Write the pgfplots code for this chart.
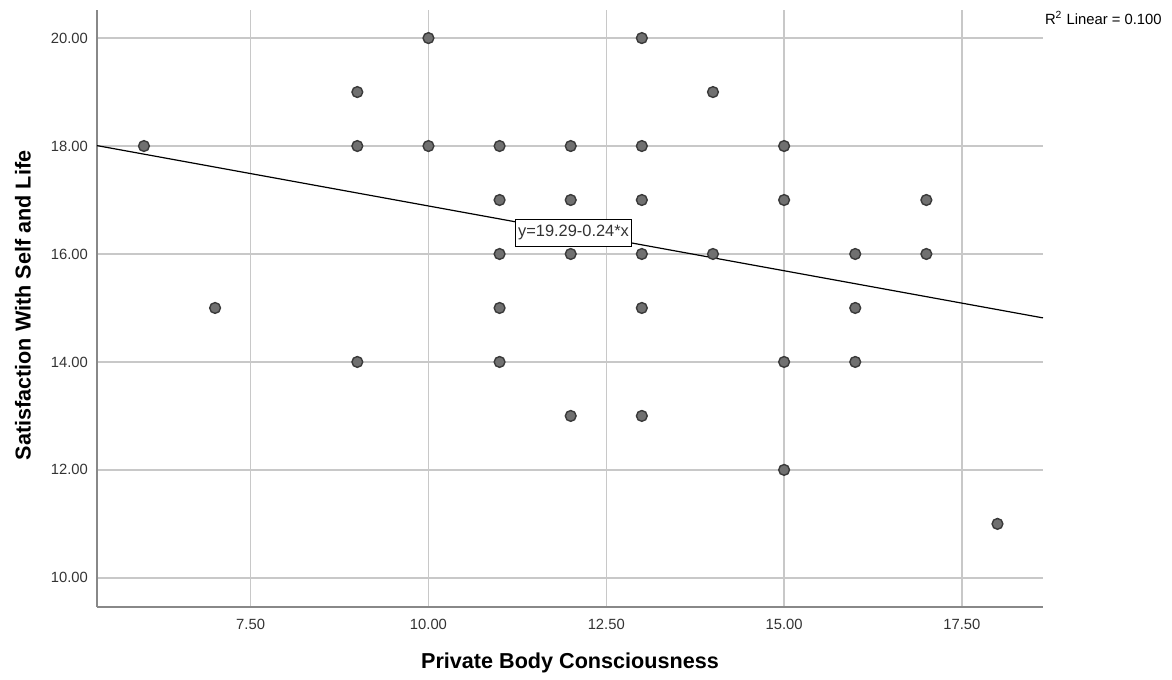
\documentclass[border=0pt]{standalone}
\usepackage{pgfplots}
\pgfplotsset{compat=1.18}
\usepackage{fontspec}
\setmainfont{Liberation Sans}
\definecolor{gridc}{HTML}{C8C8C8}
\definecolor{axc}{HTML}{888888}
\definecolor{tickc}{HTML}{333333}
\definecolor{mfill}{HTML}{707070}
\definecolor{mdraw}{HTML}{3A3A3A}
\begin{document}
\begin{tikzpicture}
\begin{axis}[
  scale only axis,
  width=473pt, height=298.5pt,
  xmin=5.34, xmax=18.64, ymin=9.46, ymax=20.52,
  axis x line*=bottom, axis y line*=left,
  axis line style={-, axc, line width=0.9pt},
  xtick={7.5,10,12.5,15,17.5},
  xticklabels={7.50,10.00,12.50,15.00,17.50},
  ytick={10,12,14,16,18,20},
  yticklabels={10.00,12.00,14.00,16.00,18.00,20.00},
  major tick length=0pt,
  grid=major,
  major grid style={gridc, line width=0.7pt},
  tick label style={font=\fontsize{7.4pt}{8pt}\selectfont, text=tickc},
  xticklabel style={yshift=-2.5pt},
  yticklabel style={xshift=-1pt},
  xlabel={Private Body Consciousness},
  ylabel={Satisfaction With Self and Life},
  label style={font=\fontsize{10.8pt}{12pt}\selectfont\bfseries, text=black},
  xlabel style={at={(rel axis cs:0.5,0)}, anchor=center, yshift=-28pt},
  ylabel style={at={(rel axis cs:0,0.505)}, anchor=center, yshift=37pt},
  clip=false,
]
\addplot[black, line width=0.6pt] coordinates {(5.34,18.008) (18.64,14.816)};
\addplot[only marks, mark=*, mark size=2.7pt, mark options={fill=mfill, draw=mdraw, line width=0.7pt}] coordinates {
(6,18) (7,15) (9,19) (9,18) (9,14) (10,20) (10,18)
(11,18) (11,17) (11,16) (11,15) (11,14)
(12,18) (12,17) (12,16) (12,13)
(13,20) (13,18) (13,17) (13,16) (13,15) (13,13)
(14,19) (14,16)
(15,18) (15,17) (15,14) (15,12)
(16,16) (16,15) (16,14)
(17,17) (17,16) (18,11)
};
\node[draw=black, line width=0.6pt, fill=white, inner xsep=1.2pt, inner ysep=1.5pt, minimum height=13.5pt, font=\fontsize{8.2pt}{9pt}\selectfont, text=tickc] at (axis cs:12.04,16.39) {y=19.29-0.24*x};
\node[anchor=east, font=\fontsize{7.4pt}{8pt}\selectfont, text=black, inner sep=0pt] at (rel axis cs:1.1258,0.9866) {R\textsuperscript{2} Linear = 0.100};
\end{axis}
\path[use as bounding box] (-48.5pt,-35pt) rectangle (537.5pt,303.5pt);
\end{tikzpicture}
\end{document}
